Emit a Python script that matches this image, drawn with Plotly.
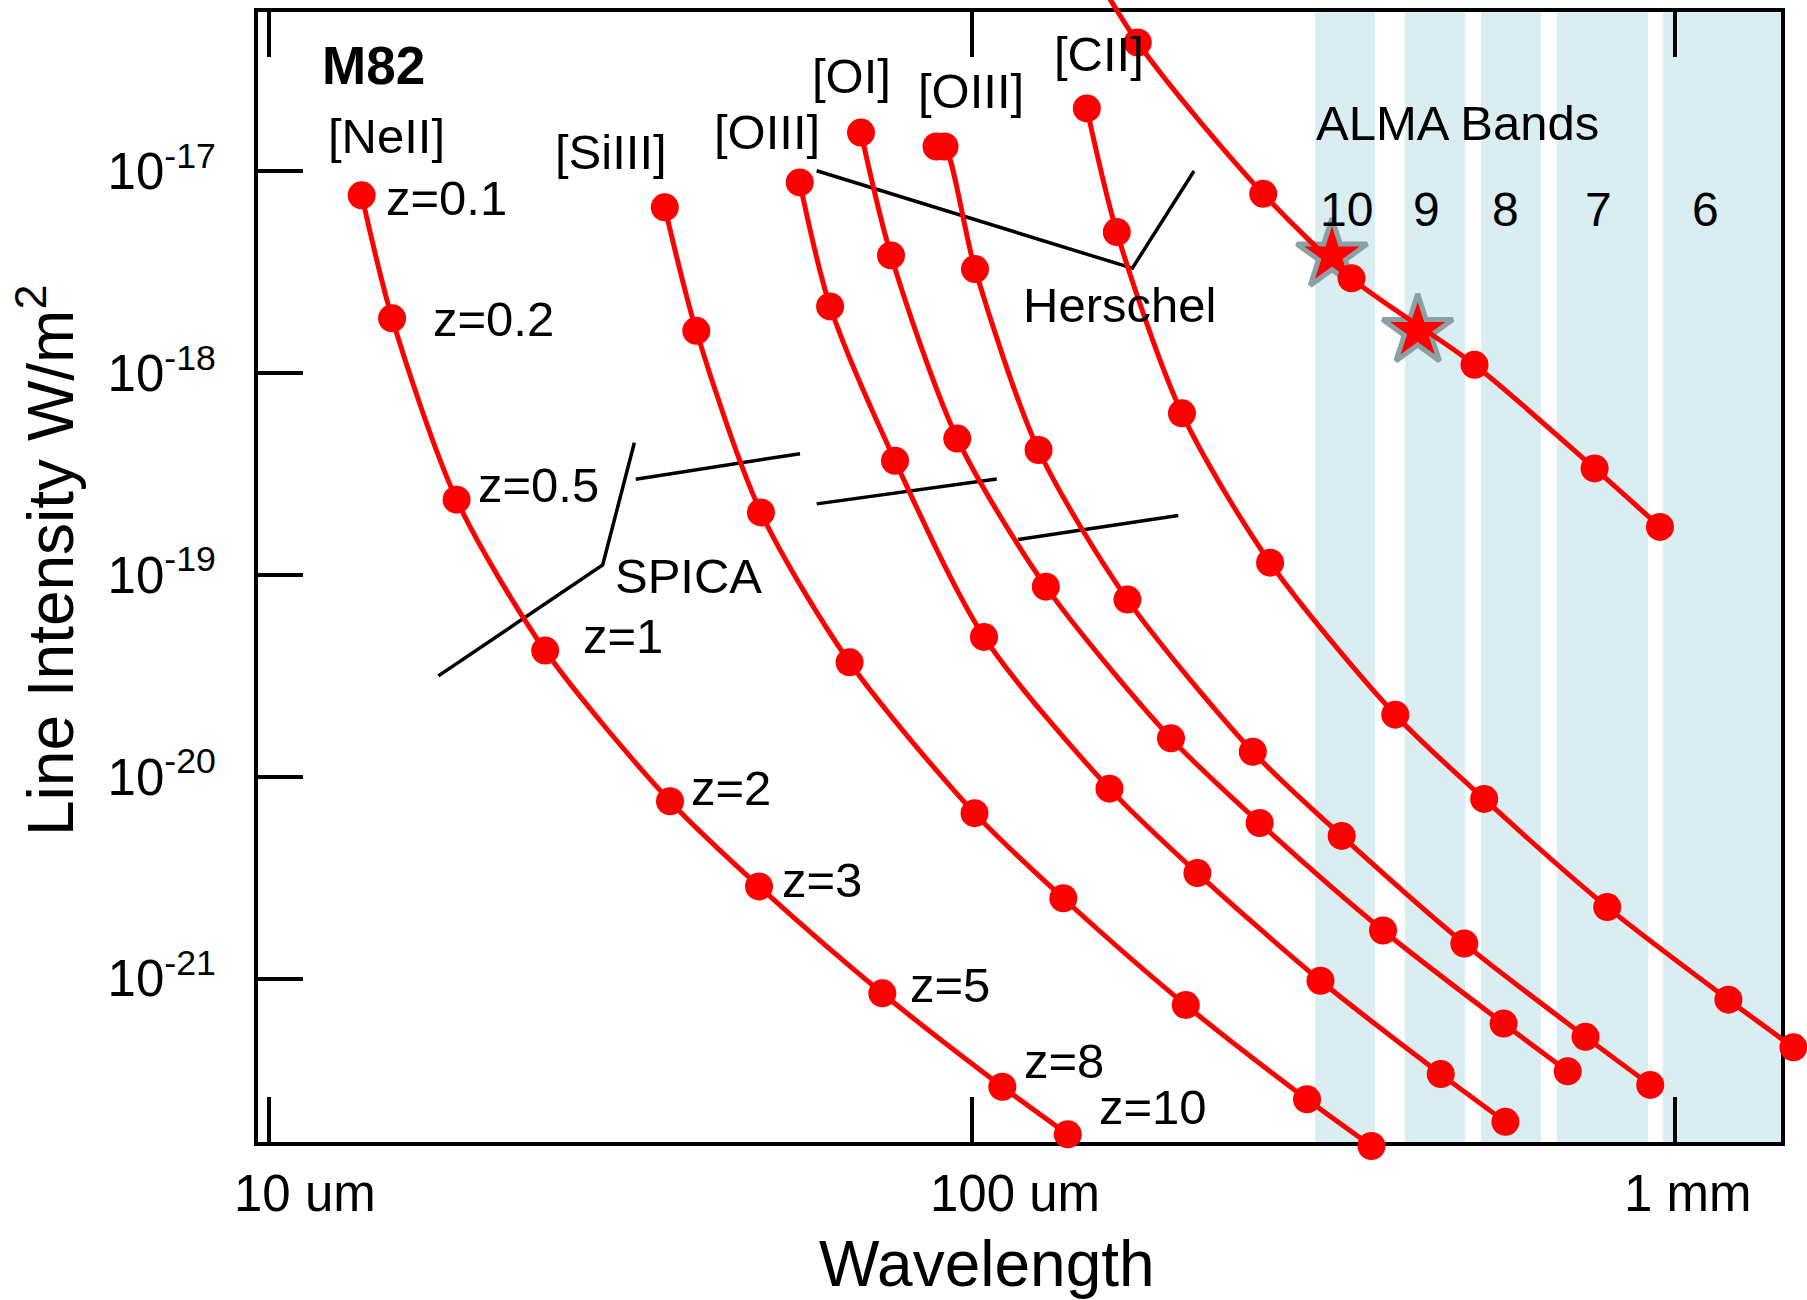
import plotly.graph_objects as go

# ---------------- data ----------------
# line-intensity tracks, wavelength in um, intensity in W/m^2
# redshift steps: z = 0.1, 0.2, 0.5, 1, 2, 3, 5, 8, 10
z_labels = ["z=0.1", "z=0.2", "z=0.5", "z=1", "z=2", "z=3", "z=5", "z=8", "z=10"]

wl_neii = [13.55, 14.97, 18.49, 24.71, 37.19, 49.77, 74.53, 110.4, 136.8]
fl_neii = [7.61e-18, 1.87e-18, 2.36e-19, 4.22e-20, 7.56e-21, 2.86e-21, 8.45e-22, 2.91e-22, 1.69e-22]

wl_siiii = [36.56, 40.53, 50.09, 66.95, 100.8, 134.8, 201.3, 299.4, 369.7]
fl_siiii = [6.63e-18, 1.62e-18, 2.04e-19, 3.69e-20, 6.60e-21, 2.50e-21, 7.39e-22, 2.52e-22, 1.48e-22]

wl_oiii52 = [56.87, 62.82, 77.70, 103.97, 156.8, 209.1, 312.9, 463.9, 573.3]
fl_oiii52 = [8.81e-18, 2.14e-18, 3.68e-19, 4.93e-20, 8.73e-21, 3.33e-21, 9.75e-22, 3.36e-22, 1.95e-22]

wl_oi = [69.50, 76.68, 95.26, 127.3, 191.8, 256.4, 384.0, 569.9, 703.0]
fl_oi = [1.556e-17, 3.83e-18, 4.74e-19, 8.75e-20, 1.55e-20, 5.90e-21, 1.73e-21, 5.98e-22, 3.47e-22]

wl_oiii88 = [89.00, 91.37, 100.95, 124.3, 166.3, 250.7, 335.4, 501.1, 745.2, 921.1]
fl_oiii88 = [1.328e-17, 1.328e-17, 3.28e-18, 4.16e-19, 7.55e-20, 1.33e-20, 5.09e-21, 1.49e-21, 5.14e-22, 2.97e-22]

wl_cii = [145.6, 160.6, 198.8, 265.3, 399.7, 534.8, 800.1, 1189.8, 1472.0]
fl_cii = [2.05e-17, 5.00e-18, 6.32e-19, 1.15e-19, 2.03e-20, 7.76e-21, 2.26e-21, 7.86e-22, 4.56e-22]

# bright high-z track (enters from above the frame)
wl_hiz = [128.6, 172.0, 259.4, 346.4, 518.1, 767.7, 951.0]
fl_hiz = [2.42e-16, 4.35e-17, 7.74e-18, 2.95e-18, 1.10e-18, 3.37e-19, 1.73e-19]

# detected sources (stars)
wl_star = [324.9, 430.2]
fl_star = [3.83e-18, 1.62e-18]

# SPICA sensitivity segments
spica_wl = [[17.42, 29.83, 33.09], [33.24, 56.92], [60.12, 108.4], [116.3, 196.4]]
spica_fl = [[3.16e-20, 1.12e-19, 4.52e-19], [2.98e-19, 3.99e-19], [2.25e-19, 2.99e-19], [1.50e-19, 1.97e-19]]

# Herschel sensitivity
herschel_wl = [60.12, 169.0, 206.8]
herschel_fl = [1.007e-17, 3.31e-18, 1.004e-17]

# ALMA bands (um)
band_names = ["10", "9", "8", "7", "6"]
band_lo = [307.3, 412.7, 529.3, 678.8, 960.4]
band_hi = [374.1, 502.3, 644.1, 914.5, 1413.0]

# axis ticks
x_tickvals = [10, 100, 1000]
x_ticktext = ["10 um", "100 um", "1 mm"]
y_tickvals = [1e-17, 1e-18, 1e-19, 1e-20, 1e-21]
y_ticktext = ["10<sup>-17</sup>", "10<sup>-18</sup>", "10<sup>-19</sup>", "10<sup>-20</sup>", "10<sup>-21</sup>"]

line_names = ["[NeII]", "[SiIII]", "[OIII]", "[OI]", "[OIII]", "[CII]"]

# ---------------- layout geometry ----------------
W, H = 1807, 1300
L, R, T, B = 258, 1781, 12, 1142          # frame in page pixels
XR = [0.98453, 3.15027]                    # log10 range of the frame
YR = [-21.81001, -16.21041]
XR_PAGE = [0.61765, 3.18724]               # same scale over the full page
YR_PAGE = [-22.59296, -16.15095]
FONT = "Liberation Sans, Arial, Helvetica, sans-serif"
RED = "#ff0000"


def px(x):
    return x / W


def py(y):
    return 1 - y / H


fig = go.Figure()

# ALMA band shading
for lo, hi in zip(band_lo, band_hi):
    fig.add_shape(type="rect", xref="x", yref="y", x0=lo, x1=hi,
                  y0=10 ** YR[0], y1=10 ** YR[1],
                  fillcolor="#daedf0", line_width=0, layer="below")

# sensitivity lines (main frame axes)
for wl, fl in zip(spica_wl, spica_fl):
    fig.add_trace(go.Scatter(x=wl, y=fl, mode="lines", line=dict(color="black", width=3.5),
                             hoverinfo="skip", xaxis="x", yaxis="y"))
fig.add_trace(go.Scatter(x=herschel_wl, y=herschel_fl, mode="lines",
                         line=dict(color="black", width=3.5), hoverinfo="skip",
                         xaxis="x", yaxis="y"))

# red tracks drawn on page-wide twin axes so edge markers are not cut
series = [(wl_neii, fl_neii), (wl_siiii, fl_siiii), (wl_oiii52, fl_oiii52),
          (wl_oi, fl_oi), (wl_oiii88, fl_oiii88), (wl_cii, fl_cii)]
for (wl, fl), nm in zip(series, line_names):
    fig.add_trace(go.Scatter(x=wl, y=fl, mode="lines+markers", name=nm,
                             line=dict(color=RED, width=5, shape="spline", smoothing=0.8),
                             marker=dict(color=RED, size=28, symbol="circle"),
                             xaxis="x2", yaxis="y2"))

fig.add_trace(go.Scatter(x=wl_star, y=fl_star, mode="markers",
                         marker=dict(symbol="star", size=53, color=RED,
                                     line=dict(color="#8aa0a5", width=5)),
                         xaxis="x2", yaxis="y2"))

fig.add_trace(go.Scatter(x=wl_hiz, y=fl_hiz, mode="lines+markers",
                         line=dict(color=RED, width=5, shape="spline", smoothing=0.8),
                         marker=dict(color=RED, size=28), xaxis="x2", yaxis="y2"))

# ---------------- annotations ----------------
ann = []


def add_text(text, x, y, size=49, bold=False, angle=0):
    ann.append(dict(text=("<b>%s</b>" % text) if bold else text, x=px(x), y=py(y),
                    xref="paper", yref="paper", showarrow=False, xanchor="center",
                    yanchor="middle", textangle=angle,
                    font=dict(family=FONT, size=size, color="black")))


add_text("M82", 373.6, 65, size=53, bold=True)
label_pos = [(386, 136), (610.5, 151.6), (767, 132), (851, 76), (971, 90.5), (1098.6, 54)]
for nm, (x, y) in zip(line_names, label_pos):
    add_text(nm, x, y)

z_pos = [(446, 198), (493.4, 319), (538, 485), (622.5, 635.5), (730.6, 788),
         (822.3, 879.5), (950, 985), (1063.6, 1061), (1153, 1107)]
for t, (x, y) in zip(z_labels, z_pos):
    add_text(t, x, y)

add_text("SPICA", 688.8, 576)
add_text("Herschel", 1119, 304.5)
add_text("ALMA Bands", 1457, 122.5)
band_label_x = [1346, 1426, 1505.5, 1598.5, 1705]
for nm, x in zip(band_names, band_label_x):
    add_text(nm, x, 209, size=48)

xtick_pos = [305, 1015, 1688]
for t, x in zip(x_ticktext, xtick_pos):
    add_text(t, x, 1193, size=51)

add_text("Wavelength", 986.5, 1264, size=64)
add_text("Line Intensity W/m<sup>2</sup>", 46, 561, size=64, angle=-90)

fig.update_layout(
    width=W, height=H,
    margin=dict(l=0, r=0, t=0, b=0, pad=0),
    paper_bgcolor="white", plot_bgcolor="rgba(0,0,0,0)",
    showlegend=False,
    annotations=ann,
    font=dict(family=FONT, color="black"),
    xaxis=dict(type="log", range=XR, domain=[L / W, R / W], anchor="y",
               showline=True, linecolor="black", linewidth=3.7, mirror="ticks",
               ticks="inside", ticklen=45, tickwidth=3.5, tickcolor="black",
               tickvals=x_tickvals, showticklabels=False,
               showgrid=False, zeroline=False),
    yaxis=dict(type="log", range=YR, domain=[1 - B / H, 1 - T / H], anchor="x",
               showline=True, linecolor="black", linewidth=3.7, mirror=True,
               ticks="inside", ticklen=45, tickwidth=3.5, tickcolor="black",
               tickvals=y_tickvals, ticktext=y_ticktext,
               tickfont=dict(family=FONT, size=51, color="black"),
               ticklabelstandoff=28,
               showgrid=False, zeroline=False),
    xaxis2=dict(type="log", range=XR_PAGE, domain=[0, 1], anchor="y2", visible=False),
    yaxis2=dict(type="log", range=YR_PAGE, domain=[0, 1], anchor="x2", visible=False),
)

fig.write_html("out.html")
